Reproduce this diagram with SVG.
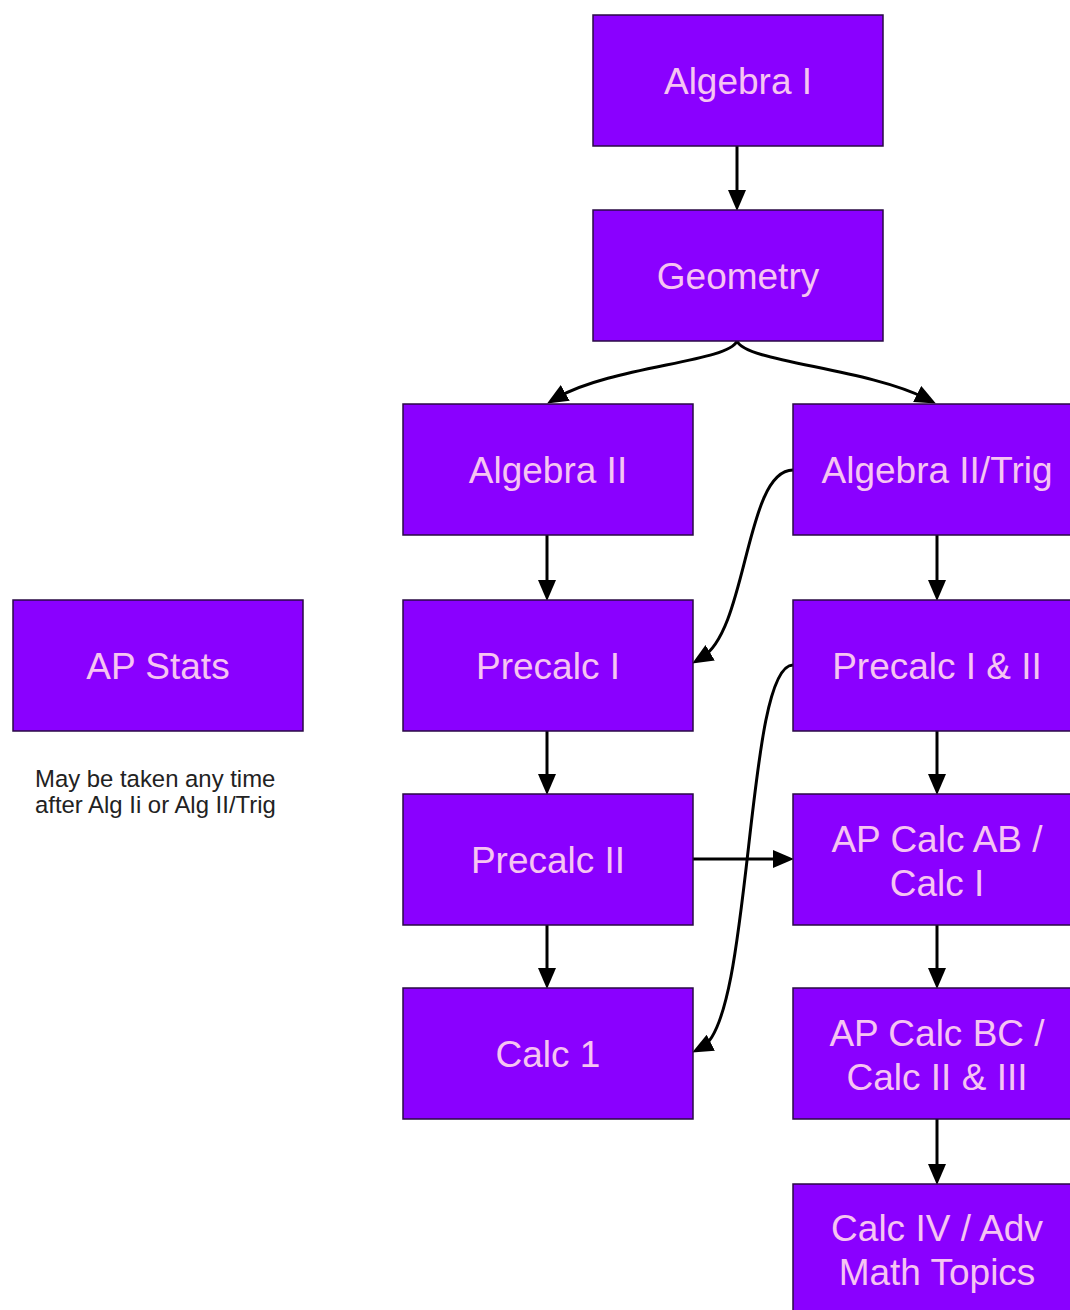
<svg xmlns="http://www.w3.org/2000/svg" width="1070" height="1310" viewBox="0 0 1070 1310">
<style>
.box{fill:#8a00ff;stroke:#2a0a45;stroke-width:1.5}
.lbl{font-family:"Liberation Sans",Arial,sans-serif;font-size:37px;fill:#f6c4f2;text-anchor:middle}
.note{font-family:"Liberation Sans",Arial,sans-serif;font-size:23.9px;fill:#222}
.edge{fill:none;stroke:#000;stroke-width:3}
</style>
<defs>
<marker id="ah" markerUnits="userSpaceOnUse" markerWidth="22" markerHeight="20" refX="10" refY="9" orient="auto">
<path d="M0,0 L21,9 L0,18 z" fill="#000"/>
</marker>
</defs>
<rect width="1070" height="1310" fill="#fff"/>
<g id="connectors">
<path class="edge" marker-end="url(#ah)" d="M737,146 L737,200"/>
<path class="edge" marker-end="url(#ah)" d="M737,341 C729,362 612,366 556.6,397.9"/>
<path class="edge" marker-end="url(#ah)" d="M737,341 C745,362 866,368 926.1,398.5"/>
<path class="edge" marker-end="url(#ah)" d="M547,534 L547,590"/>
<path class="edge" marker-end="url(#ah)" d="M793,470 C745,470 748,630 701.6,657.9"/>
<path class="edge" marker-end="url(#ah)" d="M937,534 L937,590"/>
<path class="edge" marker-end="url(#ah)" d="M547,730 L547,784"/>
<path class="edge" marker-end="url(#ah)" d="M793,665 C745,665 753,1021 701.9,1047.4"/>
<path class="edge" marker-end="url(#ah)" d="M693,859 L783,859"/>
<path class="edge" marker-end="url(#ah)" d="M937,730 L937,784"/>
<path class="edge" marker-end="url(#ah)" d="M547,924 L547,978"/>
<path class="edge" marker-end="url(#ah)" d="M937,924 L937,978"/>
<path class="edge" marker-end="url(#ah)" d="M937,1118 L937,1174"/>
</g>
<g id="algebra1"><rect class="box" x="593" y="15" width="290" height="131"/><text class="lbl" x="738" y="94">Algebra I</text></g>
<g id="geometry"><rect class="box" x="593" y="210" width="290" height="131"/><text class="lbl" x="738" y="289">Geometry</text></g>
<g id="algebra2"><rect class="box" x="403" y="404" width="290" height="131"/><text class="lbl" x="548" y="483">Algebra II</text></g>
<g id="algebra2trig"><rect class="box" x="793" y="404" width="290" height="131"/><text class="lbl" x="937" y="483">Algebra II/Trig</text></g>
<g id="apstats"><rect class="box" x="13" y="600" width="290" height="131"/><text class="lbl" x="158" y="679">AP Stats</text></g>
<g id="precalc1"><rect class="box" x="403" y="600" width="290" height="131"/><text class="lbl" x="548" y="679">Precalc I</text></g>
<g id="precalc12"><rect class="box" x="793" y="600" width="290" height="131"/><text class="lbl" x="937" y="679">Precalc I &amp; II</text></g>
<g id="precalc2"><rect class="box" x="403" y="794" width="290" height="131"/><text class="lbl" x="548" y="873">Precalc II</text></g>
<g id="apcalcab"><rect class="box" x="793" y="794" width="290" height="131"/><text class="lbl" x="937" y="852">AP Calc AB /</text><text class="lbl" x="937" y="896">Calc I</text></g>
<g id="calc1"><rect class="box" x="403" y="988" width="290" height="131"/><text class="lbl" x="548" y="1067">Calc 1</text></g>
<g id="apcalcbc"><rect class="box" x="793" y="988" width="290" height="131"/><text class="lbl" x="937" y="1046">AP Calc BC /</text><text class="lbl" x="937" y="1090">Calc II &amp; III</text></g>
<g id="calc4"><rect class="box" x="793" y="1184" width="290" height="131"/><text class="lbl" x="937" y="1241">Calc IV / Adv</text><text class="lbl" x="937" y="1285">Math Topics</text></g>
<g id="note"><text class="note" x="35" y="787">May be taken any time</text><text class="note" x="35" y="813">after Alg Ii or Alg II/Trig</text></g>
</svg>
